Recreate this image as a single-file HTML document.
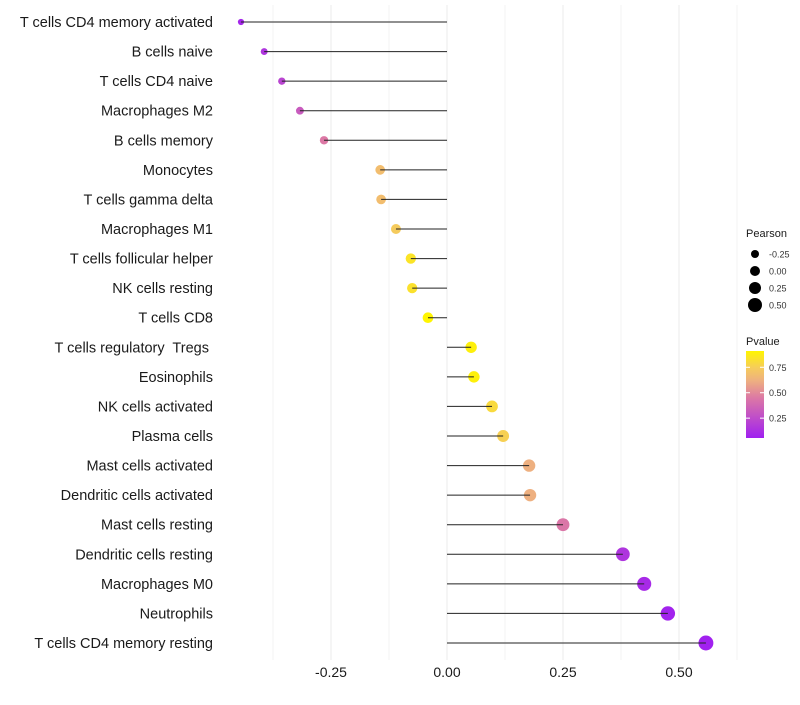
<!DOCTYPE html>
<html><head><meta charset="utf-8"><style>
body{margin:0;background:#fff;font-family:"Liberation Sans",sans-serif;}
text{white-space:pre;}
</style></head><body>
<svg id="chart" width="800" height="700">
<defs><linearGradient id="pg" x1="0" y1="1" x2="0" y2="0">
<stop offset="0" stop-color="#A020F0"/><stop offset="0.46" stop-color="#DC78A5"/><stop offset="0.66" stop-color="#EEB080"/><stop offset="0.81" stop-color="#F6CD5A"/><stop offset="1" stop-color="#FFF500"/></linearGradient></defs>
</svg>
<script>
const categories=["T cells CD4 memory activated","B cells naive","T cells CD4 naive","Macrophages M2","B cells memory","Monocytes","T cells gamma delta","Macrophages M1","T cells follicular helper","NK cells resting","T cells CD8","T cells regulatory  Tregs ","Eosinophils","NK cells activated","Plasma cells","Mast cells activated","Dendritic cells activated","Mast cells resting","Dendritic cells resting","Macrophages M0","Neutrophils","T cells CD4 memory resting"];
const pearson=[-0.444,-0.394,-0.356,-0.317,-0.265,-0.144,-0.142,-0.110,-0.078,-0.075,-0.041,0.052,0.058,0.097,0.121,0.177,0.179,0.250,0.379,0.425,0.476,0.558];
const pvalue=[0.08,0.15,0.22,0.32,0.45,0.68,0.68,0.74,0.84,0.83,0.91,0.89,0.89,0.80,0.76,0.62,0.62,0.44,0.15,0.10,0.07,0.06];
const xTicks=[-0.25,0,0.25,0.5];
const xTickLabels=["-0.25","0.00","0.25","0.50"];
const sizeLegend=[-0.25,0,0.25,0.5];
const sizeLegendLabels=["-0.25","0.00","0.25","0.50"];
const pLegend=[0.25,0.5,0.75];
const pLegendLabels=["0.25","0.50","0.75"];

const NS="http://www.w3.org/2000/svg";
const svg=document.getElementById('chart');
function mk(t,a,parent){const e=document.createElementNS(NS,t);for(const k in a)e.setAttribute(k,a[k]);(parent||svg).appendChild(e);return e;}
const xS=v=>447+v*464;
const yS=i=>22+i*(643-22)/(categories.length-1);
const rS=v=>Math.sqrt(Math.max(30+46*v,4));
const cstops=[[0.055,[160,32,240]],[0.45,[220,120,165]],[0.62,[238,176,128]],[0.75,[246,205,90]],[0.91,[255,245,0]]];
function col(p){if(p<=cstops[0][0])return 'rgb(160,32,240)';
for(let k=1;k<cstops.length;k++){if(p<=cstops[k][0]){const a=cstops[k-1],b=cstops[k];const t=(p-a[0])/(b[0]-a[0]);
return 'rgb('+a[1].map((c,j)=>Math.round(c+(b[1][j]-c)*t)).join(',')+')';}}
return 'rgb(255,245,0)';}
for(let v=-0.375;v<=0.63;v+=0.125){const x=xS(v);if(x<225||x>790)continue;
const major=Math.abs(v/0.25-Math.round(v/0.25))<1e-6;
const g=mk('line',{x1:x,x2:x,y1:5,y2:660,stroke:'#ebebeb','stroke-width':major?1:0.6});
}
categories.forEach((c,i)=>{const y=yS(i);
const t=mk('text',{x:213,y:y+5,'text-anchor':'end','font-size':14.5,fill:'#1a1a1a'});t.textContent=c;

const d=mk('circle',{cx:xS(pearson[i]),cy:y,r:rS(pearson[i]),fill:col(pvalue[i])});

const l=mk('line',{x1:xS(0),x2:xS(pearson[i]),y1:y,y2:y,stroke:'#222','stroke-width':1});

});
xTicks.forEach((v,i)=>{const t=mk('text',{x:xS(v),y:677,'text-anchor':'middle','font-size':14,fill:'#1a1a1a'});t.textContent=xTickLabels[i];
});
let t=mk('text',{x:746,y:237,'font-size':11,fill:'#1a1a1a'});t.textContent='Pearson';

sizeLegend.forEach((v,i)=>{const y=254+i*17;
const c=mk('circle',{cx:755,cy:y,r:[4,5,6,7][i],fill:'#000'});

const s=mk('text',{x:769,y:y+3.5,'font-size':9,fill:'#333'});s.textContent=sizeLegendLabels[i];
});
t=mk('text',{x:746,y:345,'font-size':11,fill:'#1a1a1a'});t.textContent='Pvalue';

const bar=mk('rect',{x:746,y:351,width:18,height:87,fill:'url(#pg)'});

const pY=p=>438-(p-0.055)/(0.91-0.055)*87;
pLegend.forEach((p,i)=>{const y=pY(p);
mk('line',{x1:746,x2:750,y1:y,y2:y,stroke:'#fff','stroke-width':1});
mk('line',{x1:760,x2:764,y1:y,y2:y,stroke:'#fff','stroke-width':1});
const s=mk('text',{x:769,y:y+3.5,'font-size':9,fill:'#333'});s.textContent=pLegendLabels[i];
});
</script>
</body></html>
